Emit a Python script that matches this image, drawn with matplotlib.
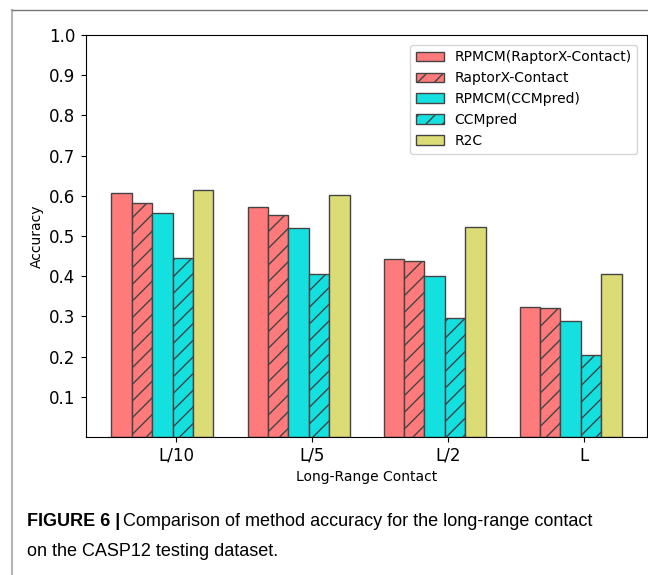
import numpy as np
import matplotlib

matplotlib.use("Agg")
import matplotlib.pyplot as plt
from matplotlib.lines import Line2D

# data
groups = ["L/10", "L/5", "L/2", "L"]
series_names = ["RPMCM(RaptorX-Contact)", "RaptorX-Contact",
                "RPMCM(CCMpred)", "CCMpred", "R2C"]
rpmcm_raptorx = [0.608, 0.573, 0.444, 0.324]
raptorx = [0.583, 0.552, 0.437, 0.322]
rpmcm_ccmpred = [0.558, 0.519, 0.401, 0.289]
ccmpred = [0.446, 0.406, 0.295, 0.204]
r2c = [0.615, 0.601, 0.523, 0.406]

series = [rpmcm_raptorx, raptorx, rpmcm_ccmpred, ccmpred, r2c]
colors = ["#ff7a7a", "#ff7a7a", "#14e0e0", "#14e0e0", "#dcdc76"]
hatches = [None, "//", None, "//", None]

fig = plt.figure(figsize=(6.48, 5.75), dpi=100)
ax = fig.add_axes([0.1327, 0.24, 0.8658, 0.6991])

x = np.arange(len(groups))
width = 0.15
for i, (vals, name) in enumerate(zip(series, series_names)):
    ax.bar(x + i * width, vals, width, color=colors[i], hatch=hatches[i],
           edgecolor="#444444", linewidth=1.0, label=name)

ax.set_ylim(0, 1.0)
ax.set_yticks(np.arange(0.1, 1.01, 0.1))
ax.set_yticklabels([f"{v:.1f}" for v in np.arange(0.1, 1.01, 0.1)], fontsize=12)
ax.tick_params(axis="y", pad=4)
ax.set_xticks(x + 0.4)
ax.set_xticklabels(groups, fontsize=12)
ax.set_xlabel("Long-Range Contact", fontsize=10)
ax.set_ylabel("Accuracy", fontsize=10)
ax.legend(loc="upper right", fontsize=10, borderaxespad=0.7)

# frame of the page screenshot
fig.add_artist(Line2D([12 / 648, 12 / 648], [0, 1 - 10 / 575],
                      transform=fig.transFigure, color="#b5b5b5", lw=1.5))
fig.add_artist(Line2D([12 / 648, 1], [1 - 10 / 575, 1 - 10 / 575],
                      transform=fig.transFigure, color="#777777", lw=1.0))

cap_font = ["Liberation Sans Narrow", "Liberation Sans", "DejaVu Sans"]
t = fig.text(27 / 648, 1 - 522 / 575, "FIGURE 6 |", family=cap_font,
             fontweight="bold", fontsize=13, va="center", ha="left")
fig.canvas.draw()
bb = t.get_window_extent()
fig.text(bb.x1 / fig.bbox.width + 0.004, 1 - 522 / 575,
         "Comparison of method accuracy for the long-range contact",
         family=cap_font, fontsize=13, va="center", ha="left")
fig.text(27 / 648, 1 - 551 / 575, "on the CASP12 testing dataset.",
         family=cap_font, fontsize=13, va="center", ha="left")

fig.savefig("out.png", dpi=100)
